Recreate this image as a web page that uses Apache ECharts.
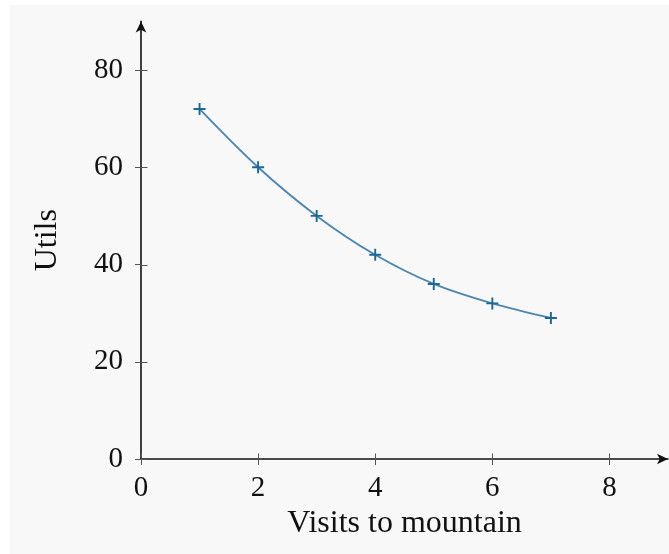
<!DOCTYPE html>
<html>
<head>
<meta charset="utf-8">
<script src="https://cdn.jsdelivr.net/npm/echarts@6/dist/echarts.min.js"></script>
<style>
html,body{margin:0;padding:0;background:#fff;}
#chart{width:669px;height:554px;}
</style>
</head>
<body>
<div id="chart"></div>
<script>
const visits = [1, 2, 3, 4, 5, 6, 7];
const utils = [72, 60, 50, 42, 36, 32, 29];
const xTicks = [0, 2, 4, 6, 8];
const yTicks = [0, 20, 40, 60, 80];

const FONT = '"Liberation Serif", "Times New Roman", serif';
const tickFont = 29;
const nameFont = 32;
const TICK_IN = 6;
const plus = 'path://M42,0H58V42H100V58H58V100H42V58H0V42H42Z';

const chart = echarts.init(document.getElementById('chart'), null, {renderer: 'canvas'});
const points = visits.map((v, i) => [v, utils[i]]);
const tickStyle = {color: '#555', width: 1};

// inner halves of the crossing ticks, placed through the axes' own scales
function innerTick(horizontal) {
  return function (params, api) {
    const p = api.coord([api.value(0), api.value(1)]);
    const x = Math.round(p[0]) + 0.5, y = Math.round(p[1]) + 0.5;
    return {
      type: 'line',
      shape: horizontal ? {x1: x, y1: y, x2: x, y2: y - TICK_IN} : {x1: x, y1: y, x2: x + TICK_IN, y2: y},
      style: {stroke: '#555', lineWidth: 1}
    };
  };
}

chart.setOption({
  backgroundColor: '#ffffff',
  animation: false,
  graphic: [{
    type: 'rect', z: -100, silent: true,
    shape: {x: 10, y: 5, width: 659, height: 549},
    style: {fill: '#f8f8f8'}
  }],
  grid: {left: 141, top: 21.4, width: 527, height: 437.6, containLabel: false},
  xAxis: {
    type: 'value', min: 0, max: 9, position: 'bottom',
    splitLine: {show: false},
    name: 'Visits to mountain',
    nameLocation: 'middle',
    nameGap: 48,
    nameTextStyle: {fontFamily: FONT, fontSize: nameFont, color: '#111'},
    axisLine: {show: true, onZero: false, lineStyle: {color: '#111', width: 1.6}, symbol: ['none', 'arrow'], symbolSize: [8, 11]},
    axisTick: {show: true, inside: false, length: 6, lineStyle: tickStyle, customValues: xTicks},
    axisLabel: {show: true, margin: 15, fontFamily: FONT, fontSize: tickFont, color: '#111', customValues: xTicks}
  },
  yAxis: {
    type: 'value', min: 0, max: 90, position: 'left',
    splitLine: {show: false},
    name: 'Utils',
    nameLocation: 'middle',
    nameGap: 77,
    nameRotate: 90,
    nameTextStyle: {fontFamily: FONT, fontSize: nameFont, color: '#111'},
    axisLine: {show: true, onZero: false, lineStyle: {color: '#111', width: 1.6}, symbol: ['none', 'arrow'], symbolSize: [8, 11]},
    axisTick: {show: true, inside: false, length: 6, lineStyle: tickStyle, customValues: yTicks},
    axisLabel: {show: true, margin: 18, fontFamily: FONT, fontSize: tickFont, color: '#111', customValues: yTicks}
  },
  series: [{
    type: 'custom',
    silent: true,
    clip: false,
    z: 1,
    data: xTicks.map(v => [v, 0]),
    encode: {x: 0, y: 1},
    renderItem: innerTick(true)
  }, {
    type: 'custom',
    silent: true,
    clip: false,
    z: 1,
    data: yTicks.map(v => [0, v]),
    encode: {x: 0, y: 1},
    renderItem: innerTick(false)
  }, {
    type: 'line',
    data: points,
    smooth: 0.35,
    symbol: plus,
    symbolSize: 12,
    showAllSymbol: true,
    z: 3,
    lineStyle: {color: '#4f86b0', width: 1.9},
    itemStyle: {color: '#1d6797', borderWidth: 0}
  }]
});
</script>
</body>
</html>
